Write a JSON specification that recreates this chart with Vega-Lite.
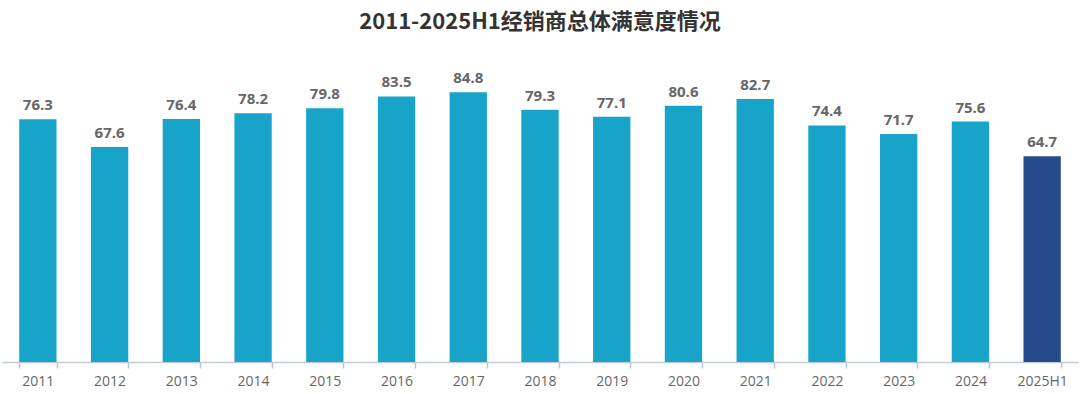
{
  "$schema": "https://vega.github.io/schema/vega-lite/v6.json",
  "autosize": "none",
  "width": 1076,
  "height": 318,
  "padding": {"left": 2, "right": 2, "top": 44, "bottom": 32},
  "background": "white",
  "title": {"text": "2011-2025H1经销商总体满意度情况", "font": "Noto Sans CJK SC", "fontSize": 22, "fontWeight": "bold", "color": "#333333", "anchor": "middle", "offset": 10},
  "data": {"values": [
    {"year": "2011", "v": 76.3, "g": "a"},
    {"year": "2012", "v": 67.6, "g": "a"},
    {"year": "2013", "v": 76.4, "g": "a"},
    {"year": "2014", "v": 78.2, "g": "a"},
    {"year": "2015", "v": 79.8, "g": "a"},
    {"year": "2016", "v": 83.5, "g": "a"},
    {"year": "2017", "v": 84.8, "g": "a"},
    {"year": "2018", "v": 79.3, "g": "a"},
    {"year": "2019", "v": 77.1, "g": "a"},
    {"year": "2020", "v": 80.6, "g": "a"},
    {"year": "2021", "v": 82.7, "g": "a"},
    {"year": "2022", "v": 74.4, "g": "a"},
    {"year": "2023", "v": 71.7, "g": "a"},
    {"year": "2024", "v": 75.6, "g": "a"},
    {"year": "2025H1", "v": 64.7, "g": "b"}
  ]},
  "encoding": {
    "x": {"field": "year", "type": "nominal", "sort": null, "title": null,
      "scale": {"paddingInner": 0.48, "paddingOuter": 0.24},
      "axis": {"labelAngle": 0, "labelFont": "Open Sans", "labelFontSize": 14, "labelColor": "#666666", "labelPadding": 6,
        "domainColor": "#c0ccd8", "domainWidth": 1.5, "ticks": true, "tickBand": "extent", "tickColor": "#b8c4d0", "tickSize": 6, "tickWidth": 1.5}},
    "y": {"field": "v", "type": "quantitative", "scale": {"domain": [0, 100]}, "axis": null}
  },
  "layer": [
    {"mark": {"type": "bar"},
     "encoding": {"color": {"field": "g", "type": "nominal", "scale": {"domain": ["a", "b"], "range": ["#18a3c9", "#264b8d"]}, "legend": null}}},
    {"mark": {"type": "text", "dy": -14, "font": "Open Sans", "fontSize": 15, "fontWeight": "bold", "color": "#666666"},
     "encoding": {"text": {"field": "v", "type": "quantitative", "format": ".1f"}}}
  ],
  "config": {"view": {"stroke": null}}
}
